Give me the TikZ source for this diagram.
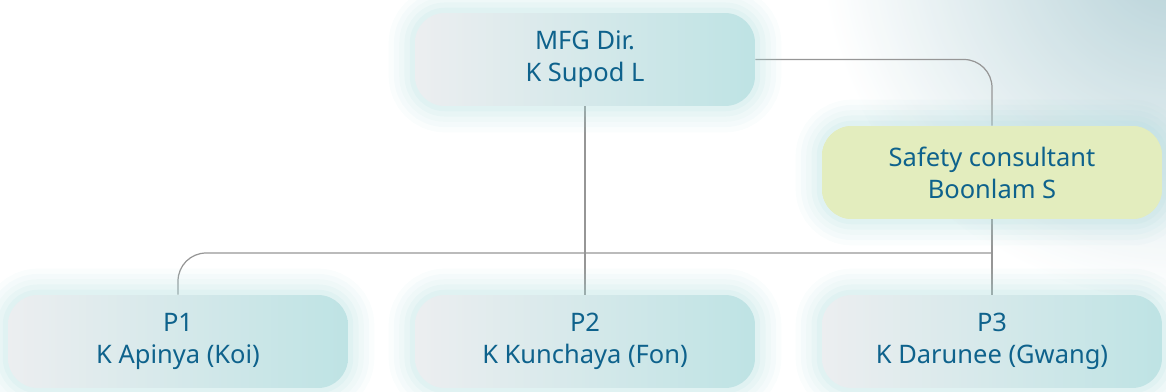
\documentclass[tikz,border=0pt]{standalone}
\usepackage{fontspec}
\setmainfont{Noto Sans}
\usetikzlibrary{backgrounds,calc,positioning}
\definecolor{boxleft}{RGB}{236,238,240}
\definecolor{boxright}{RGB}{190,227,228}
\definecolor{consult}{RGB}{227,237,190}
\definecolor{nametext}{RGB}{14,98,140}
\definecolor{glowteal}{RGB}{170,218,220}
\definecolor{linkgray}{RGB}{150,150,150}
\definecolor{cornerteal}{RGB}{160,196,204}
\tikzset{
  glow/.style={
    preaction={draw=glowteal, line width=30pt, draw opacity=0.06},
    preaction={draw=glowteal, line width=24pt, draw opacity=0.07},
    preaction={draw=glowteal, line width=18pt, draw opacity=0.08},
    preaction={draw=glowteal, line width=12pt, draw opacity=0.10},
    preaction={draw=glowteal, line width=6pt, draw opacity=0.12}},
  person/.style={glow, rounded corners=17pt, minimum width=6.8cm,
                 minimum height=1.86cm, align=center, text=nametext,
                 font=\fontsize{14.5}{18.3}\selectfont,
                 left color=boxleft, right color=boxright},
  consultbox/.style={person, fill=consult, left color=consult, right color=consult},
  link/.style={draw=linkgray, line width=0.7pt, rounded corners=16pt},
}

\begin{document}
\begin{tikzpicture}[x=0.02cm,y=-0.02cm]
  \path[use as bounding box] (0,0) rectangle (1166,392);

  \node[person] (dir) at (585,59.5) {MFG Dir.\\K Supod L};
  \node[consultbox] (safety) at (992,172.5) {Safety consultant\\Boonlam S};

  \node[person] (pone) at (178,341.5) {P1\\K Apinya (Koi)};
  \node[person] (ptwo) at (585,341.5) {P2\\K Kunchaya (Fon)};
  \node[person] (pthree) at (992,341.5) {P3\\K Darunee (Gwang)};

  \coordinate (bus) at (safety.south |- 0,253);

  % tint and connectors go behind the boxes
  \begin{scope}[on background layer]
    \shade[inner color=cornerteal, outer color=white, opacity=0.8] (1180,-60) circle (360);
    \draw[link] (dir.east) -| (safety.north);
    \draw[link] (safety.south) -- (pthree.north);
    \draw[link] (dir.south) -- (ptwo.north);
    \draw[link] (pone.north) |- (bus);
  \end{scope}
\end{tikzpicture}
\end{document}
